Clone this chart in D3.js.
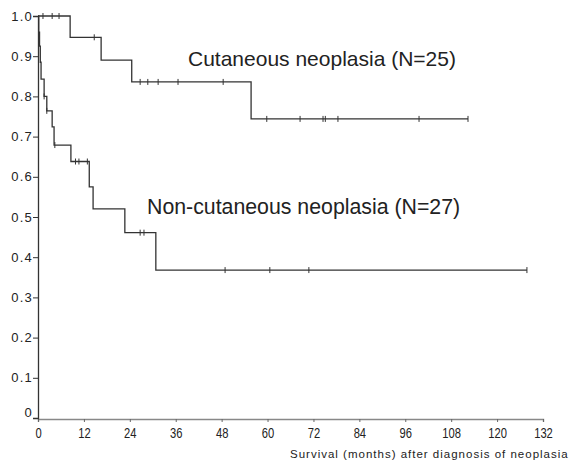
<!DOCTYPE html>
<html>
<head>
<meta charset="utf-8">
<script src="https://cdn.jsdelivr.net/npm/d3@7"></script>
<style>
  body { margin: 0; background: #fff; }
  svg { display: block; font-family: Arial, "Liberation Sans", Helvetica, sans-serif; }
</style>
</head>
<body>
<div id="chart"></div>
<script>
// survival curves: [months, survival]
const cutaneousSteps = [[0, 1.0], [8.4, 0.947], [16.5, 0.89], [24.5, 0.836], [55.7, 0.744], [112.4, 0.744]];
const cutaneousCensored = [1.3, 3.7, 5.5, 14.7, 26.7, 28.7, 31.4, 36.6, 48.4, 59.8, 68.5, 74.5, 75.1, 78.4, 99.6, 112.4];

const nonCutSteps = [[0, 1.0], [0.2, 0.96], [0.4, 0.925], [0.6, 0.885], [0.8, 0.843], [1.6, 0.80], [2.3, 0.764],
  [3.7, 0.724], [4.2, 0.679], [8.6, 0.638], [13.4, 0.575], [14.4, 0.52], [22.7, 0.461], [30.8, 0.368], [127.8, 0.368]];
const nonCutCensored = [1.6, 2.3, 4.4, 9.8, 10.7, 12.9, 26.7, 27.7, 48.9, 60.6, 70.8, 127.8];

const xTicks = [0, 12, 24, 36, 48, 60, 72, 84, 96, 108, 120, 132];
const yTicks = [0, 0.1, 0.2, 0.3, 0.4, 0.5, 0.6, 0.7, 0.8, 0.9, 1.0];

const labelCut = 'Cutaneous neoplasia (N=25)';
const labelNonCut = 'Non-cutaneous neoplasia (N=27)';
const xTitle = 'Survival (months) after diagnosis of neoplasia';

const width = 579, height = 464;
const margin = {t: 16, r: 36, b: 45, l: 38};

const svg = d3.select('#chart').append('svg')
    .attr('width', width)
    .attr('height', height);

// scales
const scaleX = d3.scaleLinear().domain([0, 132]).range([margin.l, width - margin.r]);
const scaleY = d3.scaleLinear().domain([0, 1]).range([height - margin.b - 1, margin.t]);

// axes
const axisY = d3.axisLeft(scaleY)
    .tickValues(yTicks)
    .tickSize(5)
    .tickPadding(0)
    .tickFormat(d => d === 0 ? '0' : d3.format('.1f')(d));

const axisX = d3.axisBottom(scaleX)
    .tickValues(xTicks)
    .tickSize(3)
    .tickPadding(6);

const gx = svg.append('g')
    .attr('transform', `translate(0,${scaleY(0) + 1})`)
    .call(axisX);
gx.select('.domain').attr('stroke', '#888').attr('stroke-width', 1.4);
gx.selectAll('.tick line').attr('stroke', '#666');
gx.selectAll('.tick text')
    .attr('fill', '#222')
    .attr('transform', 'scale(0.8,1)')
    .style('font-size', '14px');

const gy = svg.append('g')
    .attr('transform', `translate(${scaleX(0)},0)`)
    .call(axisY);
gy.select('.domain').attr('stroke', '#333').attr('stroke-width', 1.3);
gy.selectAll('.tick line').attr('stroke', '#333');
gy.selectAll('.tick text')
    .attr('fill', '#222')
    .attr('dy', d => d === 0 ? '-0.1em' : '0.32em')
    .style('font-size', '13px')
    .style('letter-spacing', '1.2px');

// step curves
const line = d3.line()
    .x(d => scaleX(d[0]))
    .y(d => scaleY(d[1]))
    .curve(d3.curveStepAfter);

const stepAt = (steps, t) => {
    let s = steps[0][1];
    steps.forEach(d => { if (d[0] <= t) s = d[1]; });
    return s;
};

const series = [
    {steps: cutaneousSteps, censored: cutaneousCensored},
    {steps: nonCutSteps, censored: nonCutCensored}
];

const groups = svg.selectAll('.curve')
    .data(series)
    .enter()
    .append('g')
    .attr('class', 'curve');

groups.append('path')
    .attr('d', d => line(d.steps))
    .attr('fill', 'none')
    .attr('stroke', '#333')
    .attr('stroke-width', 1.3);

groups.selectAll('.censor')
    .data(d => d.censored.map(t => [t, stepAt(d.steps, t)]))
    .enter()
    .append('line')
    .attr('class', 'censor')
    .attr('x1', d => scaleX(d[0]))
    .attr('x2', d => scaleX(d[0]))
    .attr('y1', d => scaleY(d[1]) - 3)
    .attr('y2', d => scaleY(d[1]) + 3)
    .attr('stroke', '#333')
    .attr('stroke-width', 1);

// curve labels
svg.append('text')
    .attr('x', 188)
    .attr('y', 66)
    .attr('fill', '#222')
    .style('font-size', '21px')
    .text(labelCut);

svg.append('text')
    .attr('x', 147)
    .attr('y', 214)
    .attr('fill', '#222')
    .style('font-size', '21.3px')
    .text(labelNonCut);

// x title
svg.append('text')
    .attr('x', 290)
    .attr('y', 458)
    .attr('fill', '#222')
    .style('font-size', '11.5px')
    .style('letter-spacing', '1px')
    .text(xTitle);
</script>
</body>
</html>
